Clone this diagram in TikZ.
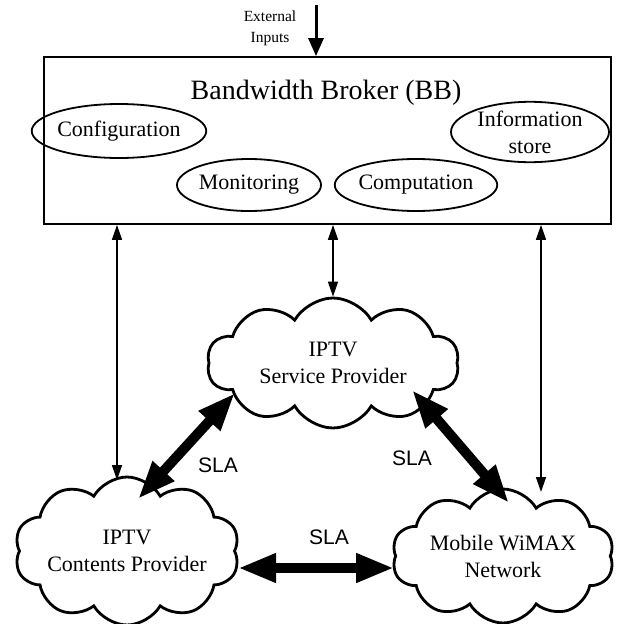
\documentclass[tikz,border=0pt]{standalone}
\usepackage{fontspec}
\setmainfont{Liberation Serif}
\newfontfamily\slafont{Liberation Sans}
\usetikzlibrary{shapes.symbols,shapes.geometric,arrows.meta}
\begin{document}
\begin{tikzpicture}[x=1pt,y=-1pt,
  ell/.style={ellipse, draw, line width=1.8pt, inner sep=0pt, font=\fontsize{22}{27}\selectfont, align=center},
  cloudnode/.style={cloud, draw, line width=2.8pt, cloud puffs=10, cloud puff arc=120, cloud ignores aspect, inner sep=0pt, font=\fontsize{22}{27}\selectfont, align=center},
  thinarr/.style={{Triangle[length=15pt,width=10pt]}-{Triangle[length=15pt,width=10pt]}, line width=1.5pt},
  fatarr/.style={{Triangle[length=38pt,width=27pt]}-{Triangle[length=38pt,width=27pt]}, line width=10pt},
  extarr/.style={-{Triangle[length=18pt,width=15pt]}, line width=3pt},
  sla/.style={font=\slafont\fontsize{21}{24}\selectfont, inner sep=0pt}
]
\useasboundingbox (0,0) rectangle (616,624);

% external input
\node[font=\fontsize{15.5}{21}\selectfont, align=center, inner sep=0pt] (ext) at (270,28) {External\\Inputs};
\coordinate (extstart) at (316,5);

% bandwidth broker
\node[draw, line width=1.8pt, minimum width=567pt, minimum height=167pt, inner sep=0pt] (bb) at (327.5,140.5) {};
\draw[extarr] (extstart) -- (extstart |- bb.north);
\node[font=\fontsize{28}{32}\selectfont, inner sep=0pt] (title) at (326,93) {Bandwidth Broker (BB)};
\node[ell, minimum width=152pt, minimum height=54pt] (conf) at (119,131) {Configuration};
\node[ell, minimum width=144pt, minimum height=52pt] (mon) at (249,185) {Monitoring};
\node[ell, minimum width=157pt, minimum height=52pt] (comp) at (416,185) {Computation};
\node[ell, minimum width=158pt, minimum height=60pt] (info) at (530,132) {Information\\store};

% clouds
\node[cloudnode, minimum width=252pt, minimum height=130pt] (sp) at (333,363) {IPTV\\Service Provider};
\node[cloudnode, minimum width=222pt, minimum height=148pt] (cp) at (127,551) {IPTV\\Contents Provider};
\node[cloudnode, minimum width=222pt, minimum height=134pt] (wm) at (503,556) {Mobile WiMAX\\Network};

% thin arrows
\coordinate (cptop) at (117,480);
\coordinate (wmtop) at (541,492);
\draw[thinarr] (bb.south -| cptop) -- (cptop);
\draw[thinarr] (bb.south -| sp.north) -- (sp.north);
\draw[thinarr] (bb.south -| wmtop) -- (wmtop);

% SLA arrows
\coordinate (spl) at (235,393);
\coordinate (cpt) at (138,499);
\coordinate (spr) at (412,390);
\coordinate (wmt) at (509,503);
\coordinate (cpr) at (238,568);
\draw[fatarr] (spl) -- (cpt);
\draw[fatarr] (spr) -- (wmt);
\draw[fatarr] (cpr) -- (cpr -| wm.west);

\node[sla] (sla1) at (218,465) {SLA};
\node[sla] (sla2) at (412,458) {SLA};
\node[sla] (sla3) at (329,537) {SLA};
\end{tikzpicture}
\end{document}
